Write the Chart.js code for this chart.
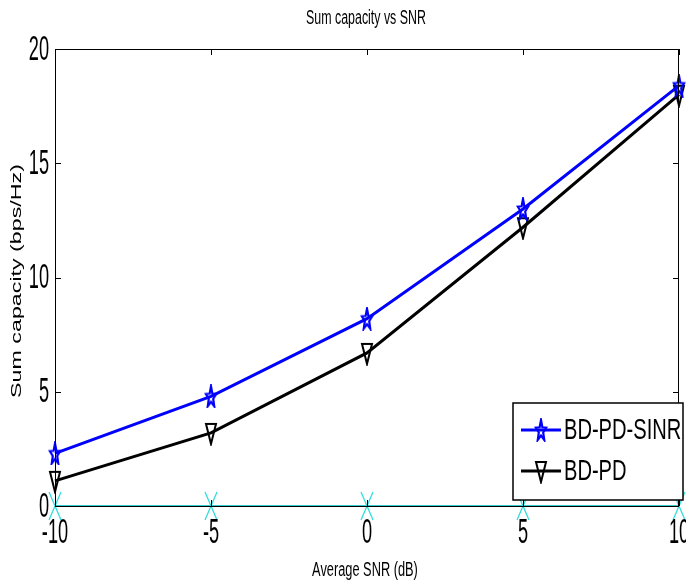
<!DOCTYPE html>
<html>
<head>
<meta charset="utf-8">
<script src="https://cdn.jsdelivr.net/npm/chart.js@4.4.1/dist/chart.umd.min.js"></script>
<style>
  html, body { margin: 0; padding: 0; background: #fff; }
  #wrap { width: 686px; height: 581px; position: relative; }
</style>
</head>
<body>
<div id="wrap"><canvas id="snrChart" width="686" height="581"></canvas></div>
<script>
const snrValues = [-10, -5, 0, 5, 10];
const sinrCapacity = [2.3, 4.8, 8.2, 13.0, 18.4];
const pdCapacity = [1.1, 3.2, 6.7, 12.2, 18.0];
const baseline = [0, 0, 0, 0, 0];
const xTicks = [-10, -5, 0, 5, 10];
const yTicks = [0, 5, 10, 15, 20];

const sans = "'Liberation Sans', Arial, sans-serif";

// tall pentagram marker (the figure is squeezed sideways)
function makeStar(color) {
  const c = document.createElement("canvas");
  c.width = 14; c.height = 24;
  const g = c.getContext("2d");
  g.strokeStyle = color;
  g.lineWidth = 2.2;
  g.beginPath();
  for (let i = 0; i < 10; i++) {
    const r = i % 2 === 0 ? 1 : 0.42;
    const a = -Math.PI / 2 + i * Math.PI / 5;
    const px = 7 + 5.5 * r * Math.cos(a);
    const py = 13 + 11 * r * Math.sin(a);
    if (i === 0) g.moveTo(px, py); else g.lineTo(px, py);
  }
  g.closePath();
  g.stroke();
  return c;
}

function makeTriangle(color) {
  const c = document.createElement("canvas");
  c.width = 14; c.height = 26;
  const g = c.getContext("2d");
  g.strokeStyle = color;
  g.lineWidth = 2;
  g.beginPath();
  g.moveTo(2, 4); g.lineTo(12, 4); g.lineTo(7, 24);
  g.closePath();
  g.stroke();
  return c;
}

function makeCross(color) {
  const c = document.createElement("canvas");
  c.width = 14; c.height = 30;
  const g = c.getContext("2d");
  g.strokeStyle = color;
  g.lineWidth = 1.3;
  g.beginPath();
  g.moveTo(1, 1); g.lineTo(13, 29);
  g.moveTo(13, 1); g.lineTo(1, 29);
  g.stroke();
  return c;
}

const starImg = makeStar("#0000ff");
const triImg = makeTriangle("#000");
const crossImg = makeCross("#33dddd");

function toPoints(ys) {
  return snrValues.map(function(x, i) { return {x: x, y: ys[i]}; });
}

// squeezed text, like the narrow font in the picture
function squeezedText(ctx, text, x, y, size, align, sx, family) {
  ctx.save();
  ctx.font = size + "px " + (family || sans);
  ctx.textBaseline = "middle";
  ctx.textAlign = align;
  ctx.translate(x, y);
  ctx.scale(sx, 1);
  ctx.fillText(text, 0, 0);
  ctx.restore();
}

const boxPlugin = {
  id: "boxPlugin",
  afterDraw: function(chart) {
    const ctx = chart.ctx;
    const a = chart.chartArea;
    const xs = chart.scales.x;
    const ys = chart.scales.y;
    ctx.save();
    ctx.strokeStyle = "#000";
    ctx.lineWidth = 1;
    ctx.strokeRect(a.left + 0.5, a.top + 0.5, a.right - a.left - 1, a.bottom - a.top);
    ctx.beginPath();
    xs.ticks.forEach(function(t) {
      const px = Math.round(xs.getPixelForValue(t.value)) + 0.5;
      ctx.moveTo(px, a.top); ctx.lineTo(px, a.top + 6);
      ctx.moveTo(px, a.bottom); ctx.lineTo(px, a.bottom - 6);
    });
    ys.ticks.forEach(function(t) {
      const py = Math.round(ys.getPixelForValue(t.value)) + 0.5;
      ctx.moveTo(a.left, py); ctx.lineTo(a.left + 6, py);
      ctx.moveTo(a.right, py); ctx.lineTo(a.right - 6, py);
    });
    ctx.stroke();

    ctx.fillStyle = "#000";
    // tick labels
    xs.ticks.forEach(function(t) {
      squeezedText(ctx, String(t.value), xs.getPixelForValue(t.value), a.bottom + 27, 35, "center", 0.52);
    });
    ys.ticks.forEach(function(t) {
      squeezedText(ctx, String(t.value), a.left - 6, ys.getPixelForValue(t.value) + 1, 35, "right", 0.52);
    });

    // titles
    squeezedText(ctx, "Sum capacity vs SNR", 366, 18, 20, "center", 0.62);
    squeezedText(ctx, "Average SNR (dB)", 365, 570, 20, "center", 0.64);
    ctx.save();
    ctx.translate(17, 281);
    ctx.rotate(-Math.PI / 2);
    ctx.scale(1.55, 1);
    ctx.font = "15px " + sans;
    ctx.textAlign = "center";
    ctx.textBaseline = "middle";
    ctx.fillText("Sum capacity (bps/Hz)", 0, 0);
    ctx.restore();

    // legend box
    const lx = 513, ly = 403, lw = 170, lh = 97;
    ctx.fillStyle = "#fff";
    ctx.fillRect(lx, ly, lw, lh);
    ctx.strokeStyle = "#000";
    ctx.lineWidth = 1.5;
    ctx.strokeRect(lx, ly, lw, lh);

    const entries = [
      {label: "BD-PD-SINR", color: "#0000ff", y: 430, img: starImg},
      {label: "BD-PD", color: "#000", y: 471, img: triImg}
    ];
    entries.forEach(function(e) {
      ctx.strokeStyle = e.color;
      ctx.lineWidth = 3;
      ctx.beginPath();
      ctx.moveTo(521, e.y); ctx.lineTo(561, e.y);
      ctx.stroke();
      ctx.drawImage(e.img, 541 - e.img.width / 2, e.y - e.img.height / 2);
      ctx.fillStyle = "#000";
      squeezedText(ctx, e.label, 564, e.y + 1, 30, "left", 0.67);
    });
    ctx.restore();
  }
};

new Chart(document.getElementById("snrChart"), {
  type: "line",
  data: {
    datasets: [
      {
        label: "zero",
        data: toPoints(baseline),
        borderColor: "#33cccc",
        borderWidth: 2,
        pointStyle: crossImg,
        order: 3
      },
      {
        label: "BD-PD",
        data: toPoints(pdCapacity),
        borderColor: "#000",
        borderWidth: 3,
        pointStyle: triImg,
        order: 2
      },
      {
        label: "BD-PD-SINR",
        data: toPoints(sinrCapacity),
        borderColor: "#0000ff",
        borderWidth: 3,
        pointStyle: starImg,
        order: 1
      }
    ]
  },
  options: {
    responsive: false,
    animation: false,
    clip: false,
    layout: { padding: { top: 49, right: 3, left: 0, bottom: 0 } },
    plugins: {
      legend: { display: false },
      title: { display: false },
      tooltip: { enabled: false }
    },
    scales: {
      x: {
        type: "linear",
        min: -10,
        max: 10,
        afterBuildTicks: function(scale) {
          scale.ticks = xTicks.map(function(v) { return {value: v}; });
        },
        afterFit: function(scale) {
          scale.height = 75;
          scale.paddingLeft = 0;
          scale.paddingRight = 0;
        },
        grid: { display: false },
        border: { display: false },
        ticks: { display: false }
      },
      y: {
        min: 0,
        max: 20,
        afterBuildTicks: function(scale) {
          scale.ticks = yTicks.map(function(v) { return {value: v}; });
        },
        afterFit: function(scale) {
          scale.width = 55;
          scale.paddingTop = 0;
          scale.paddingBottom = 0;
        },
        grid: { display: false },
        border: { display: false },
        ticks: { display: false }
      }
    }
  },
  plugins: [boxPlugin]
});
</script>
</body>
</html>
